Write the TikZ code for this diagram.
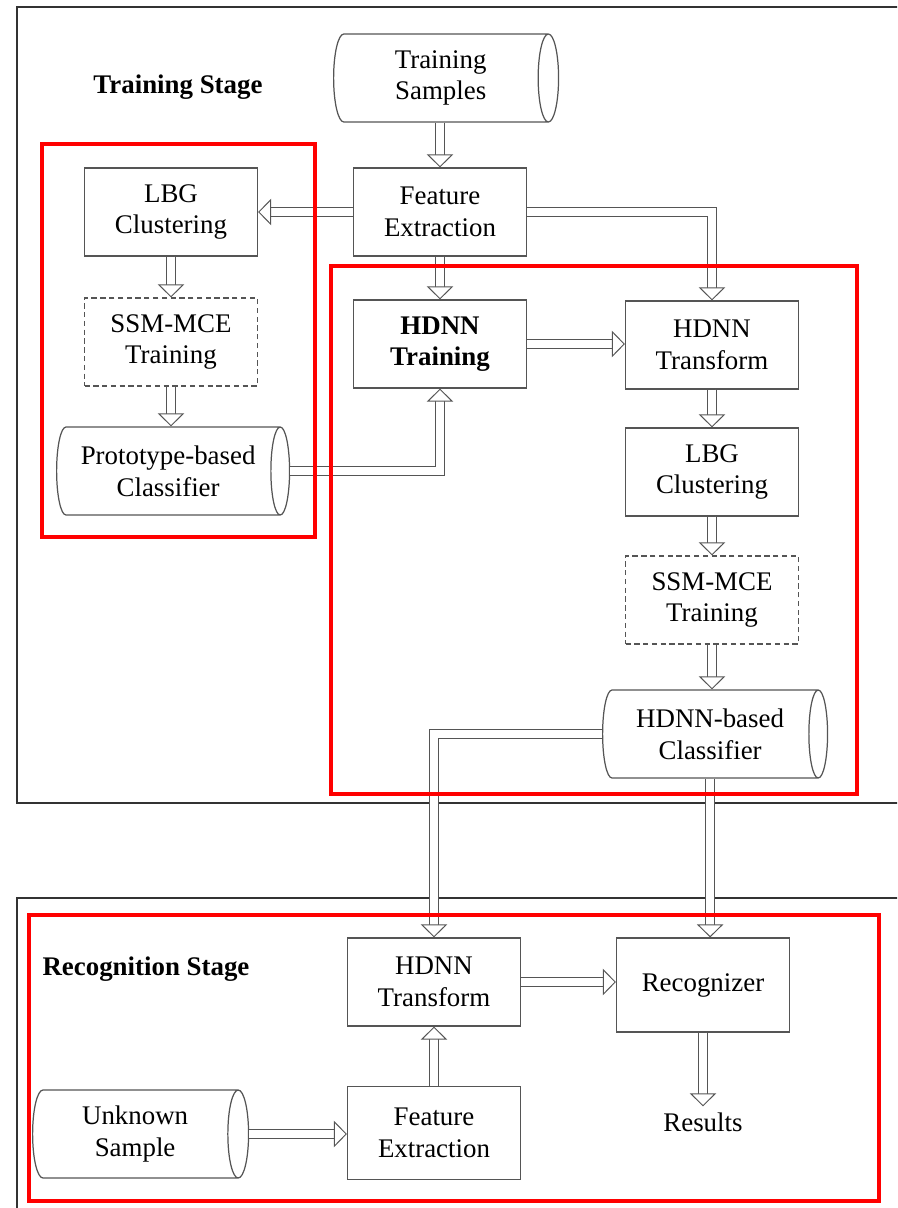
\documentclass[tikz,border=0pt]{standalone}
\usepackage{fontspec}
\setmainfont{Liberation Serif}
\usetikzlibrary{arrows.meta, shapes.geometric, calc}
\definecolor{linegray}{HTML}{555555}
\definecolor{framegray}{HTML}{333333}
\definecolor{hlred}{HTML}{FF0000}

\begin{document}
\begin{tikzpicture}[
  x=0.02cm, y=-0.02cm,
  font=\fontsize{15.3}{18}\selectfont,
  box/.style={draw=linegray, line width=0.7pt, fill=white,
    minimum width=34.6mm, minimum height=17.6mm, align=center, inner sep=0pt},
  dashbox/.style={box, dash pattern=on 3pt off 2pt},
  store/.style={cylinder, shape border rotate=0, shape aspect=0.37, draw=linegray,
    line width=0.7pt, fill=white, minimum height=45mm, minimum width=17.6mm,
    align=center, inner sep=0pt, anchor=west},
  dblarr/.style={draw=linegray, line width=0.55pt, double=white, double distance=4.2pt,
    -{Triangle[open, fill=white, length=7.4pt, width=15pt]}},
  frame/.style={draw=framegray, line width=1.1pt},
  redbox/.style={draw=hlred, line width=2.8pt},
  stage/.style={font=\fontsize{15.3}{18}\selectfont\bfseries},
]
\useasboundingbox (0,0) rectangle (897,1208);
\clip (0,0) rectangle (897,1208);

% Stage frames (open to the right)
\draw[frame] (905,7) -| (17,803) -- (905,803);
\draw[frame] (905,898) -| (17,1215);

\node[stage] (trst) at (178,87) {Training Stage};
\node[stage] (rcst) at (146,969) {Recognition Stage};

% Training stage
\node[store] (tsamp) at (333,78) {Training\\Samples};
\node[box] (fe1) at (440,212) {Feature\\Extraction};
\node[box] (lbg1) at (171,212) {LBG\\Clustering};
\node[dashbox] (ssm1) at (171,342) {SSM-MCE\\Training};
\node[store, minimum height=46.6mm] (proto) at (56,471) {Prototype-based\\Classifier};
\node[box, font=\fontsize{15.3}{18}\selectfont\bfseries] (hdtr) at (440,344) {HDNN\\Training};
\node[box] (hdtf1) at (712,345) {HDNN\\Transform};
\node[box] (lbg2) at (712,472) {LBG\\Clustering};
\node[dashbox] (ssm2) at (712,600) {SSM-MCE\\Training};
\node[store] (hdcls) at (602,734) {HDNN-based\\Classifier};

% Recognition stage
\node[box] (hdtf2) at (434,982) {HDNN\\Transform};
\node[box, minimum height=18.8mm] (rec) at (703,985) {Recognizer};
\node[box, minimum height=18.6mm] (fe2) at (434,1133) {Feature\\Extraction};
\node[store, minimum height=43.2mm] (unk) at (32,1134) {Unknown\\Sample};
\node (res) at (703,1122) {Results};

% Arrows
\draw[dblarr] (tsamp.south -| fe1.north) -- (fe1.north);
\draw[dblarr] (fe1.west) -- (lbg1.east);
\draw[dblarr] (fe1.south) -- (hdtr.north);
\draw[dblarr] (fe1.east) -| (hdtf1.north);
\draw[dblarr] (lbg1.south) -- (ssm1.north);
\draw[dblarr] (ssm1.south) -- (ssm1.south |- proto.north);
\draw[dblarr] (proto.east) -| (hdtr.south);
\draw[dblarr] (hdtr.east) -- (hdtr.east -| hdtf1.west);
\draw[dblarr] (hdtf1.south) -- (lbg2.north);
\draw[dblarr] (lbg2.south) -- (ssm2.north);
\draw[dblarr] (ssm2.south) -- (ssm2.south |- hdcls.north);
\draw[dblarr] (hdcls.west) -| (hdtf2.north);
\draw[dblarr] (hdcls.south) -- (hdcls.south |- rec.north);
\draw[dblarr] (hdtf2.east) -- (hdtf2.east -| rec.west);
\draw[dblarr] (fe2.north) -- (hdtf2.south);
\draw[dblarr] (unk.east) -- (unk.east -| fe2.west);
\draw[dblarr] (rec.south) -- (res.north);

% Highlighted regions
\draw[redbox] (42,144) rectangle (315,537);
\draw[redbox] (331,266) rectangle (857,794);
\draw[redbox] (29,915) rectangle (879,1201);
\end{tikzpicture}
\end{document}
